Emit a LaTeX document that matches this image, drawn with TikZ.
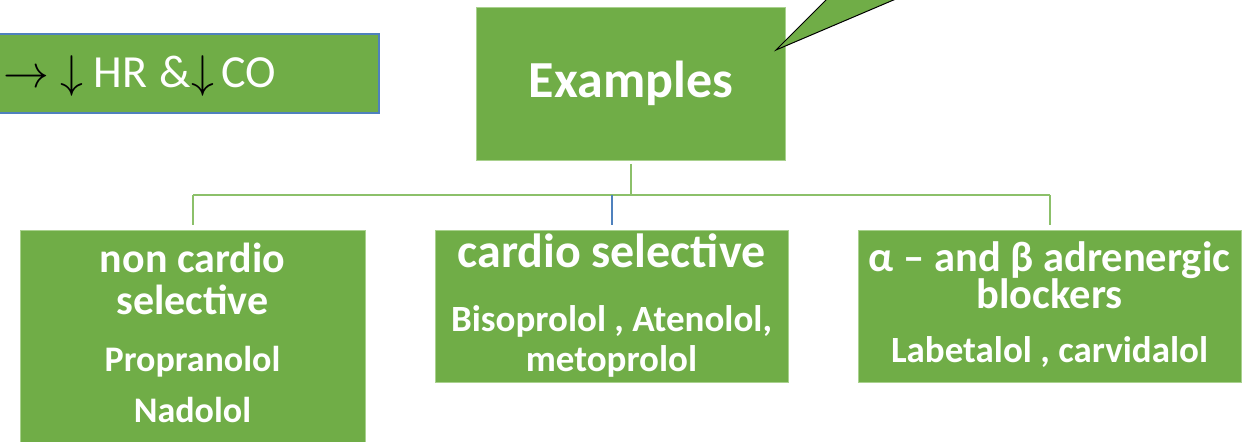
\documentclass[tikz,border=0pt]{standalone}
\usepackage{graphicx}
\usepackage{fontspec}
\setmainfont{Carlito}
\definecolor{leafgreen}{HTML}{70AD47}
\definecolor{leafedge}{HTML}{A9D18E}
\definecolor{linkgreen}{HTML}{8CC06A}
\definecolor{linkblue}{HTML}{4F81BD}
\newcommand{\pxsize}[1]{\fontsize{#1bp}{#1bp}\selectfont}
\newcommand{\bigarr}[1]{{\color{black}\scalebox{4.6}{\fontsize{10pt}{12pt}\selectfont$#1$}}}
\tikzset{
  box/.style={fill=leafgreen,draw=leafedge,line width=1bp,inner sep=0,anchor=north west},
  txt/.style={text=white,font=\bfseries,anchor=base,inner sep=0},
  link/.style={draw=linkgreen,line width=2bp},
  linkb/.style={draw=linkblue,line width=2bp}
}

\begin{document}
\begin{tikzpicture}[x=1bp,y=-1bp]
  \useasboundingbox (0,0) rectangle (1256,442);
  \clip (0,0) rectangle (1256,442);

  % effect box, cut by the left edge
  \node[box,draw=linkblue,line width=2bp,minimum width=488bp,minimum height=79bp] (hr) at (-110,33) {};
  \node[txt,font=\pxsize{46},anchor=base east] (hrtxt) at (276,88)
    {\bigarr{\rightarrow}\hspace{12bp}\bigarr{\downarrow}\hspace{10bp}HR\hspace{2bp} \&\bigarr{\downarrow}\hspace{7bp}CO};

  % root
  \node[box,minimum width=309bp,minimum height=153bp] (ex) at (476,7) {};
  \node[txt,font=\bfseries\pxsize{52}] (extxt) at (631,98) {Examples};
  \fill[leafgreen,draw=black,line width=1bp] (776,50) -- (836,-10) -- (917,-10) -- cycle;

  % non cardio selective
  \node[box,minimum width=345bp,minimum height=240bp] (nc) at (20,230) {};
  \node[txt,font=\bfseries\pxsize{42}] (nc1) at (192.5,273) {non cardio};
  \node[txt,font=\bfseries\pxsize{42}] (nc2) at (192.5,315) {selective};
  \node[txt,font=\bfseries\pxsize{36}] (nc3) at (192.5,372) {Propranolol};
  \node[txt,font=\bfseries\pxsize{36}] (nc4) at (192.5,423) {Nadolol};

  % cardio selective
  \node[box,minimum width=353bp,minimum height=152bp] (cs) at (435,230) {};
  \node[txt,font=\bfseries\pxsize{48}] (cs1) at (611.5,268) {cardio selective};
  \node[txt,font=\bfseries\pxsize{37}] (cs2) at (611.5,332) {Bisoprolol , Atenolol,};
  \node[txt,font=\bfseries\pxsize{37}] (cs3) at (611.5,372) {metoprolol};

  % alpha and beta blockers
  \node[box,minimum width=383bp,minimum height=152bp] (ab) at (858,230) {};
  \node[txt,font=\bfseries\pxsize{42.5}] (ab1) at (1049.5,272) {α – and β adrenergic};
  \node[txt,font=\bfseries\pxsize{42.5}] (ab2) at (1049.5,309) {blockers};
  \node[txt,font=\bfseries\pxsize{37}] (ab3) at (1049.5,363) {Labetalol , carvidalol};

  % connectors
  \coordinate (bus) at (0,195);
  \draw[link,shorten <=3bp] (ex.south) -- (ex.south |- bus);
  \draw[link,shorten >=5bp] (nc.north |- bus) -- (nc.north);
  \draw[link] (nc.north |- bus) -- (ab.north |- bus);
  \draw[link,shorten >=5bp] (ab.north |- bus) -- (ab.north);
  \draw[linkb,shorten >=5bp] (cs.north |- bus) -- (cs.north);
\end{tikzpicture}
\end{document}
